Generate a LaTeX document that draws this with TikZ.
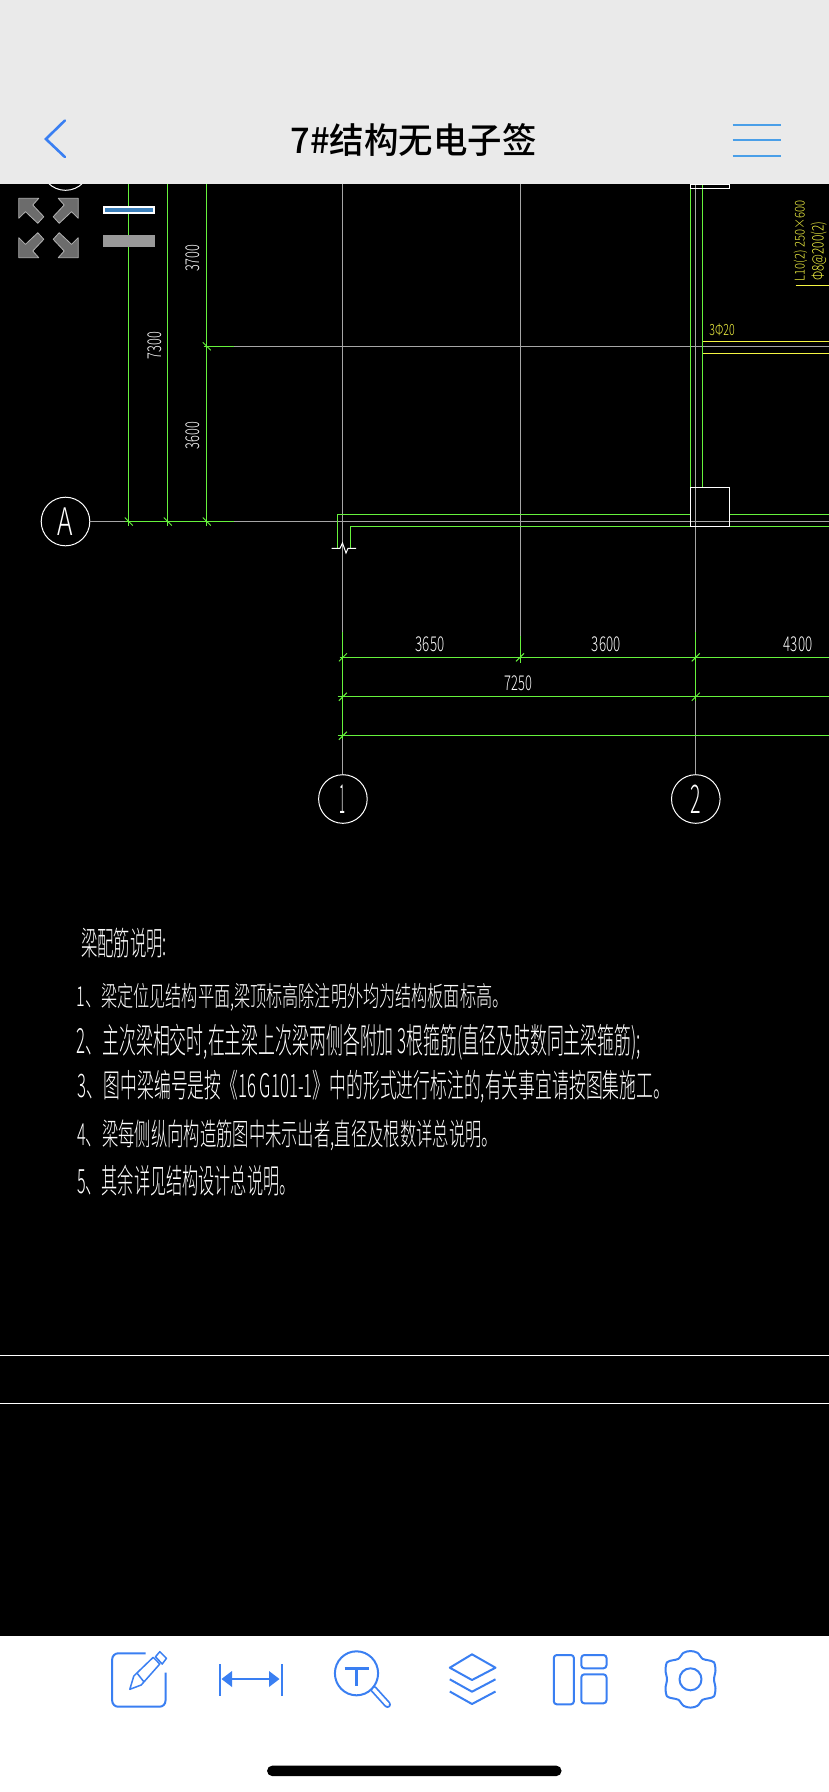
\documentclass[tikz,border=0pt]{standalone}
\usepackage{graphicx}
\usepackage{fontspec}
\setmainfont{Liberation Sans}
\newfontfamily\cjk{Noto Sans CJK SC Light}
\newfontfamily\cjktitle{Noto Sans CJK SC Medium}
\newcommand{\cadtext}[3]{\resizebox*{#1pt}{#2pt}{\cjk #3}}
\definecolor{cadgreen}{HTML}{66F23C}
\definecolor{cadgray}{HTML}{A6A6A6}
\definecolor{cadyellow}{HTML}{F5F542}
\definecolor{appblue}{HTML}{3A7FF2}
\definecolor{barblue}{HTML}{4A9FE8}
\definecolor{topbar}{HTML}{EAEAEA}
\begin{document}
\begin{tikzpicture}[
	x=1pt, y=-1pt,
	line width=1pt,
	gridline/.style={draw=cadgray},
	dimline/.style={draw=cadgreen},
	beamline/.style={draw=cadgreen},
	whiteline/.style={draw=white},
	yellowline/.style={draw=cadyellow},
	tickmark/.style={draw=cadgreen},
	axisnode/.style={circle, draw=white, minimum size=48.6pt, inner sep=0pt, text=white},
	cadlabel/.style={inner sep=0pt, text=white},
	steellabel/.style={inner sep=0pt, text=cadyellow},
	notelabel/.style={inner sep=0pt, anchor=west, text=white},
	iconline/.style={draw=appblue, line width=2pt, line join=round}]
   \fill[black] (0,0) rectangle (828,1792);
   \node[axisnode](axistop) at (65,166){};
   \node[axisnode](axisa) at (65,521.5){\cadtext{15.4}{27.7}{A}};
   \node[axisnode](axisone) at (342.4,799){\cadtext{6}{28.5}{1}};
   \node[axisnode](axistwo) at (695.3,799){\cadtext{10.5}{28.5}{2}};
   \coordinate (gridaend) at (828,521.5);
   \coordinate (gridbstart) at (233,346.3);
   \coordinate (gridbend) at (828,346.3);
   \coordinate (gridonetop) at (342.4,184);
   \coordinate (gridtwotop) at (695.3,184);
   \coordinate (gridmidtop) at (519.5,184);
   \coordinate (gridmidend) at (519.5,640);
   \draw[gridline] (axisa) -- (gridaend);
   \draw[gridline] (gridbstart) -- (gridbend);
   \draw[gridline] (gridonetop) -- (axisone);
   \draw[gridline] (gridtwotop) -- (axistwo);
   \draw[gridline] (gridmidtop) -- (gridmidend);
   \draw[dimline] (128.3,184) -- (128.3,526);
   \draw[dimline] (167.3,184) -- (167.3,526);
   \draw[dimline] (206.3,184) -- (206.3,526);
   \draw[dimline] (124,521.5) -- (233,521.5);
   \draw[dimline] (203,346.3) -- (233,346.3);
   \draw[dimline] (342.4,632) -- (342.4,739);
   \draw[dimline] (519.5,636) -- (519.5,662.5);
   \draw[dimline] (695.3,632) -- (695.3,701);
   \draw[dimline] (339,657.3) -- (828,657.3);
   \draw[dimline] (337,696.7) -- (828,696.7);
   \draw[dimline] (337,735.7) -- (828,735.7);
   \foreach \tx/\ty in {342.4/657.3,519.5/657.3,695.3/657.3,342.4/696.7,695.3/696.7,342.4/735.7}
      \draw[tickmark] (\tx-4,\ty+4) -- (\tx+4,\ty-4);
   \foreach \tx/\ty in {128.3/521.5,167.3/521.5,206.3/521.5,206.3/346.3}
      \draw[tickmark] (\tx-4,\ty-4) -- (\tx+4,\ty+4);
   \draw[beamline] (690.3,184) -- (690.3,487.3);
   \draw[beamline] (702.3,184) -- (702.3,487.3);
   \draw[beamline] (337.4,548.3) |- (690.3,514.3);
   \draw[beamline] (349.5,548.3) |- (690.3,526.3);
   \draw[beamline] (729.3,514.3) -- (828,514.3);
   \draw[beamline] (729.3,526.3) -- (828,526.3);
   \draw[whiteline] (690.3,184) rectangle (729.3,188.3);
   \draw[whiteline] (690.3,487.3) rectangle (729.3,526.3);
   \draw[whiteline] (331,548.3) -- (339.5,548.3) -- (342,543) -- (345.5,553) -- (347.5,548.3) -- (355.6,548.3);
   \draw[yellowline] (702.7,341.3) -- (828,341.3);
   \draw[yellowline] (702.7,353.3) -- (828,353.3);
   \draw[yellowline] (795,285.3) -- (828,285.3);
   \draw[whiteline] (0,1355.3) -- (828,1355.3);
   \draw[whiteline] (0,1403.3) -- (828,1403.3);
   \node[cadlabel,rotate=90](dimc) at (192.7,258.3){\cadtext{27.3}{14}{3700}};
   \node[cadlabel,rotate=90](dimb) at (154,345.7){\cadtext{27.3}{14}{7300}};
   \node[cadlabel,rotate=90](dima) at (192.7,435.7){\cadtext{27.3}{14}{3600}};
   \node[cadlabel](dimd) at (429.6,644.7){\cadtext{28.6}{15}{3650}};
   \node[cadlabel](dime) at (605.7,644.7){\cadtext{28.6}{15}{3600}};
   \node[cadlabel](dimf) at (797.6,644.7){\cadtext{28.6}{15}{4300}};
   \node[cadlabel](dimg) at (517.8,683.7){\cadtext{27.5}{15}{7250}};
   \node[steellabel](barlabel) at (721.6,330){\cadtext{25.3}{12}{3Φ20}};
   \node[steellabel,rotate=90](beamname) at (800,240.5){\cadtext{81}{13.5}{L10(2) 250×600}};
   \node[steellabel,rotate=90](beamstir) at (818.3,251.3){\cadtext{59.3}{16}{Φ8@200(2)}};
   \node[notelabel](notehead) at (80,943){\cadtext{86}{30}{梁配筋说明:}};
   \node[notelabel](notea) at (75.5,997){\cadtext{432}{28}{1、梁定位见结构平面,梁顶标高除注明外均为结构板面标高。}};
   \node[notelabel](noteb) at (75.5,1041.7){\cadtext{564.5}{36}{2、主次梁相交时,在主梁上次梁两侧各附加 3根箍筋(直径及肢数同主梁箍筋);}};
   \node[notelabel](notec) at (77,1087){\cadtext{592}{33}{3、图中梁编号是按《16 G101-1》中的形式进行标注的,有关事宜请按图集施工。}};
   \node[notelabel](noted) at (76,1135.5){\cadtext{421}{31}{4、梁每侧纵向构造筋图中未示出者,直径及根数详总说明。}};
   \node[notelabel](notee) at (76,1180.5){\cadtext{218.5}{31}{5、其余详见结构设计总说明。}};
   \foreach \sx/\sy in {1/1,-1/1,1/-1,-1/-1}{
      \begin{scope}[shift={(48,228)},xscale=\sx,yscale=\sy]
      \filldraw[fill=gray!85!black,draw=gray!60!white,line width=.8pt,line join=round] (-29.7,-29.7) -- (-9.7,-29.7) -- (-15.7,-23) -- (-4.7,-11.3) -- (-10.7,-4.7) -- (-23,-16.3) -- (-29.7,-9.7) -- cycle;
      \end{scope}
   }
   \filldraw[fill=barblue!80!black,draw=white,line width=2pt] (103,207) rectangle (153,213.3);
   \fill[gray!80!white] (102,235) rectangle (154,247);
   \fill[topbar] (0,0) rectangle (828,184);
   \fill[white] (0,1636) rectangle (828,1792);
   \node[inner sep=0pt,text=black](pagetitle) at (413,140){\resizebox*{246pt}{33pt}{\cjktitle 7\#结构无电子签}};
   \draw[draw=appblue,line width=2.6pt,line cap=round,line join=miter] (64.4,120.5) -- (45.4,139) -- (64.4,157);
   \foreach \by in {125,140,156}
      \draw[draw=barblue,line width=2.6pt] (732,\by) -- (780,\by);
   \draw[iconline,rounded corners=6pt] (145,1653.3) -- (111.7,1653.3) -- (111.7,1706.7) -- (165,1706.7) -- (165,1672.7);
   \draw[draw=appblue,line width=1.5pt,line join=round] (129.3,1689.3) -- (133.3,1676) -- (152.7,1657.3) -- (159.3,1664) -- (140.7,1685) -- cycle;
   \draw[draw=appblue,line width=1.5pt] (136.7,1673.3) -- (143.3,1681.7);
   \draw[draw=appblue,line width=1.5pt,line join=round] (155,1656.7) -- (159.3,1651.7) -- (166,1658.3) -- (161.7,1664) -- cycle;
   \draw[iconline] (219,1664) -- (219,1696);
   \draw[iconline] (281,1664) -- (281,1696);
   \draw[iconline] (230,1679) -- (270,1679);
   \fill[appblue] (221,1679) -- (231.5,1671) -- (231.5,1687) -- cycle;
   \fill[appblue] (279,1679) -- (268.5,1671) -- (268.5,1687) -- cycle;
   \draw[draw=appblue,line width=7pt,line cap=round] (373,1689) -- (387,1704.5);
   \draw[draw=white,line width=3.5pt,line cap=round] (373,1689) -- (387,1704.5);
   \filldraw[iconline,fill=white] (356,1673.3) ellipse (21.6pt and 22pt);
   \draw[draw=appblue,line width=2.6pt] (344,1668.3) -- (368,1668.3);
   \draw[draw=appblue,line width=2.6pt] (356,1668.3) -- (356,1686);
   \draw[iconline] (471.5,1654.3) -- (495,1667.7) -- (471.5,1680) -- (449.3,1667.7) -- cycle;
   \draw[iconline] (449.3,1679.3) -- (471.5,1691.7) -- (495,1679.3);
   \draw[iconline] (449.3,1691.5) -- (471.5,1704) -- (495,1691.5);
   \draw[iconline,rounded corners=3pt] (553.3,1655) rectangle (573.4,1704.3);
   \draw[iconline,rounded corners=3pt] (580.8,1655) rectangle (606,1668.3);
   \draw[iconline,rounded corners=3pt] (580.8,1674.3) rectangle (606,1703.3);
   \begin{scope}[shift={(690,1679.3)}]
   \draw[iconline] plot[smooth cycle] coordinates {(0,-28.3) (7,-26.5) (12,-20.5) (18,-19) (23.5,-17) (25,-9) (23.5,0) (25,9) (23.5,17) (18,19) (12,20.5) (7,26.5) (0,28.3) (-7,26.5) (-12,20.5) (-18,19) (-23.5,17) (-25,9) (-23.5,0) (-25,-9) (-23.5,-17) (-18,-19) (-12,-20.5) (-7,-26.5)};
   \draw[iconline] (0,0) circle (11pt);
   \end{scope}
   \fill[black,rounded corners=5pt] (266.6,1765.7) rectangle (561,1776);
   \useasboundingbox (0,0) rectangle (828,1792);
\end{tikzpicture}
\end{document}
